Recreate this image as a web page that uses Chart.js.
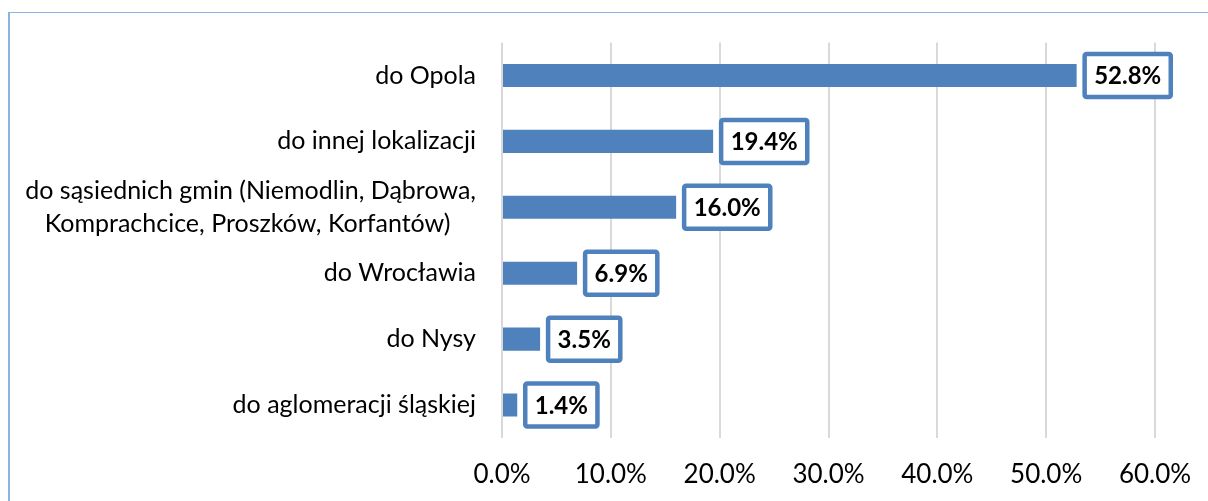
<!DOCTYPE html>
<html>
<head>
<meta charset="utf-8">
<script src="https://cdn.jsdelivr.net/npm/chart.js@4.4.1/dist/chart.umd.min.js"></script>
<style>
  html, body { margin: 0; padding: 0; background: #fff; overflow: hidden; }
  #wrap { position: relative; width: 1208px; height: 501px; }
  #frame { position: absolute; left: 8px; top: 12px; width: 1400px; height: 700px;
           border-top: 1px solid #8cb4e2; border-left: 2px solid #8cb4e2; box-sizing: border-box; }
  canvas { position: absolute; left: 0; top: 0; }
</style>
</head>
<body>
<div id="wrap">
  <div id="frame"></div>
  <canvas id="c"></canvas>
</div>
<script>
const categories = [
  'do Opola',
  'do innej lokalizacji',
  ['do sąsiednich gmin (Niemodlin, Dąbrowa,', 'Komprachcice, Proszków, Korfantów)'],
  'do Wrocławia',
  'do Nysy',
  'do aglomeracji śląskiej'
];
const values = [52.8, 19.4, 16.0, 6.9, 3.5, 1.4];
const xTicks = [0, 10, 20, 30, 40, 50, 60];

const FONT = 'Lato';
const CAT_SIZE = 25;
const BLUE = '#4f81bd';

// center the lines of multi-line labels relative to each other (right-aligned block)
const mctx = document.createElement('canvas').getContext('2d');
function centerLines(lbl) {
  if (!Array.isArray(lbl)) return lbl;
  mctx.font = CAT_SIZE + 'px ' + FONT;
  const w = lbl.map(l => mctx.measureText(l).width);
  const max = Math.max(...w);
  const sp = mctx.measureText('\u00A0').width;
  return lbl.map((l, i) => l + '\u00A0'.repeat(Math.round((max - w[i]) / 2 / sp)));
}

const boxLabels = {
  id: 'boxLabels',
  afterDatasetsDraw(chart) {
    const ctx = chart.ctx;
    const meta = chart.getDatasetMeta(0);
    ctx.save();
    ctx.font = 'bold 24px ' + FONT;
    ctx.textAlign = 'center';
    ctx.textBaseline = 'middle';
    meta.data.forEach((el, i) => {
      const txt = values[i].toFixed(1) + '%';
      const tw = ctx.measureText(txt).width;
      const bw = tw + 23, bh = 47;
      const bx = el.x + 6, by = el.y - bh / 2;
      ctx.beginPath();
      ctx.roundRect(bx + 2, by + 2, bw - 4, bh - 4, 2);
      ctx.fillStyle = '#fff';
      ctx.fill();
      ctx.lineWidth = 4.5;
      ctx.strokeStyle = BLUE;
      ctx.stroke();
      ctx.fillStyle = '#000';
      ctx.fillText(txt, bx + bw / 2, el.y + 1);
    });
    ctx.restore();
  }
};

new Chart(document.getElementById('c'), {
  type: 'bar',
  data: {
    labels: categories.map(centerLines),
    datasets: [{
      data: values,
      backgroundColor: BLUE,
      borderWidth: 0,
      categoryPercentage: 1,
      barPercentage: 0.35
    }]
  },
  options: {
    indexAxis: 'y',
    responsive: true,
    maintainAspectRatio: false,
    animation: false,
    layout: { padding: { top: 41, right: 53, left: 0, bottom: 0 } },
    plugins: { legend: { display: false }, tooltip: { enabled: false } },
    scales: {
      x: {
        min: 0, max: 60,
        afterBuildTicks: s => { s.ticks = xTicks.map(v => ({ value: v })); },
        afterFit: s => { s.height = 63; s.paddingRight = 0; s.paddingLeft = 0; },
        grid: { color: '#d9d9d9', lineWidth: 2, drawTicks: false },
        border: { display: false },
        ticks: {
          padding: 21,
          color: '#000',
          autoSkip: false,
          font: { family: FONT, size: 26 },
          callback: v => Number(v).toFixed(1) + '%',
          maxRotation: 0
        }
      },
      y: {
        afterFit: s => { s.width = 502; },
        grid: { display: false, drawTicks: false },
        border: { display: false },
        ticks: {
          padding: 26,
          color: '#000',
          autoSkip: false,
          font: { family: FONT, size: CAT_SIZE, lineHeight: 1.32 }
        }
      }
    }
  },
  plugins: [boxLabels]
});
</script>
</body>
</html>
